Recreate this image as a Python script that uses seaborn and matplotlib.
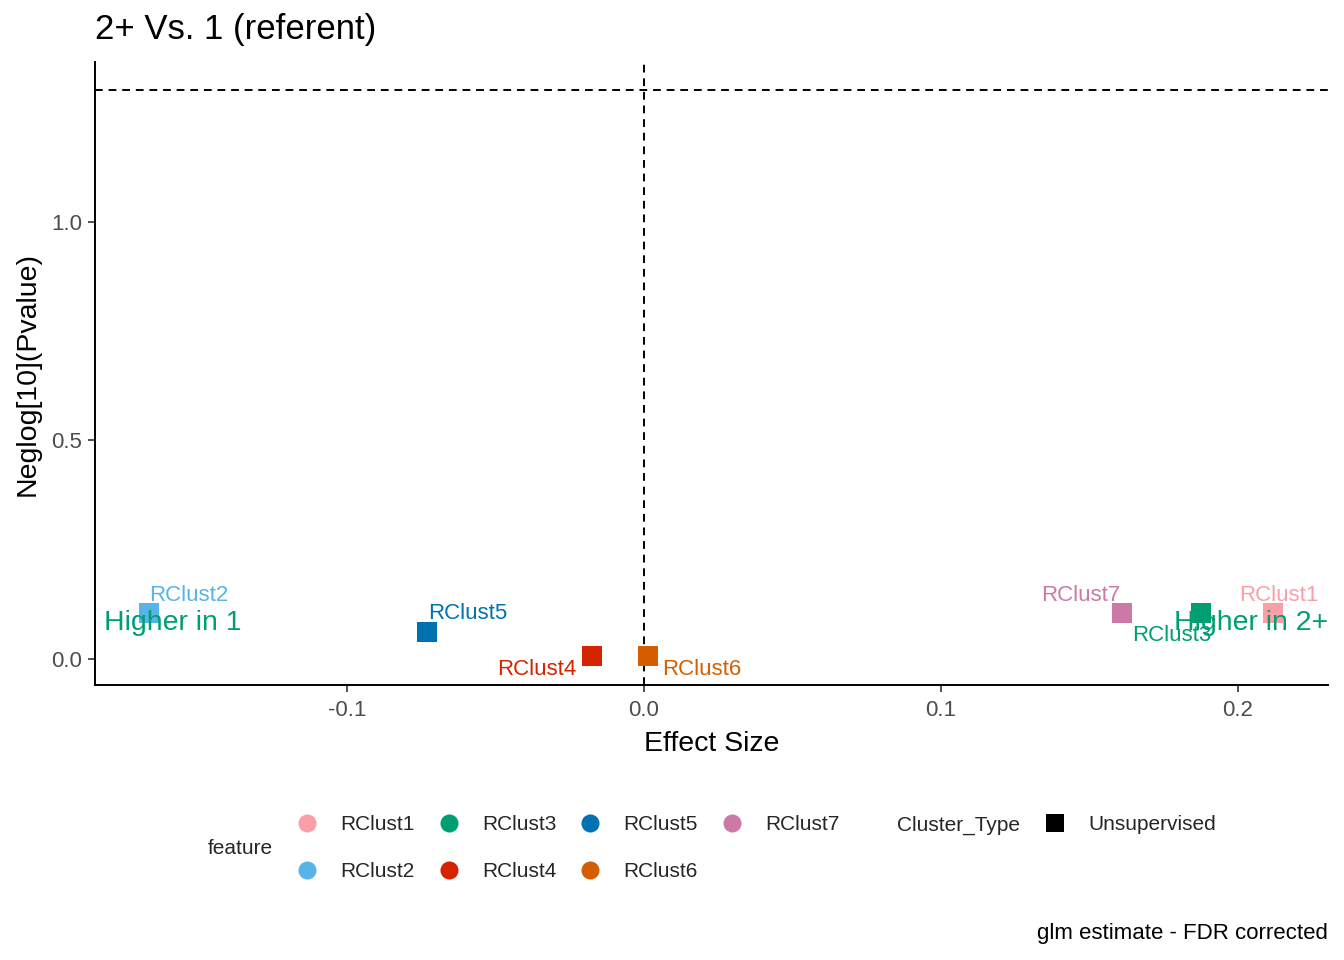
import matplotlib
matplotlib.use("Agg")
import matplotlib.pyplot as plt
import matplotlib.transforms as mtransforms
from matplotlib.lines import Line2D
import seaborn as sns
import pandas as pd

# ---- data ----
features = ["RClust1", "RClust2", "RClust3", "RClust4", "RClust5", "RClust6", "RClust7"]
effect_size = [0.2118, -0.1665, 0.1875, -0.0175, -0.0731, 0.0013, 0.1610]
neglog_p = [0.105, 0.105, 0.105, 0.007, 0.062, 0.007, 0.105]
cluster_type = ["Unsupervised"] * 7
palette_colors = ["#FA9FA8", "#56B4E9", "#009E73", "#D62300", "#0072B2", "#D55E00", "#CC79A7"]
x_ticks = [-0.1, 0.0, 0.1, 0.2]
y_ticks = [0.0, 0.5, 1.0]
sig_line = 1.30103

# label offsets (points) for repelled labels: (dx, dy, ha)
label_offsets = {
    "RClust1": (4, 13, "center"),
    "RClust2": (0, 13, "left"),
    "RClust3": (-21, -16, "center"),
    "RClust4": (-11, -9.5, "right"),
    "RClust5": (1, 13, "left"),
    "RClust6": (10, -9.5, "left"),
    "RClust7": (-1.5, 13, "right"),
}

df = pd.DataFrame({"feature": features, "effect": effect_size,
                   "neglog": neglog_p, "Cluster_Type": cluster_type})
pal = dict(zip(features, palette_colors))

sns.set_theme(style="ticks")
plt.rcParams["font.family"] = ["Liberation Sans", "DejaVu Sans"]

fig = plt.figure(figsize=(13.44, 9.6), dpi=100)
ax = fig.add_axes([95 / 1344, 1 - 685 / 960, 1233 / 1344, 623 / 960])

sns.scatterplot(data=df, x="effect", y="neglog", hue="feature", palette=pal,
                marker="s", s=210, linewidth=0, legend=False, ax=ax, zorder=3)

ax.axhline(sig_line, color="black", lw=1.4, ls=(0, (4, 3)), zorder=1)
ax.axvline(0, color="black", lw=1.4, ls=(0, (4, 3)), zorder=1)

for f, xv, yv in zip(features, effect_size, neglog_p):
    dx, dy, ha = label_offsets[f]
    ax.annotate(f, (xv, yv), xytext=(dx, dy), textcoords="offset points",
                ha=ha, va="center", fontsize=16, color=pal[f], zorder=4)

blend = mtransforms.blended_transform_factory(ax.transAxes, ax.transData)
ax.text(0.0073, 0.082, "Higher in 1", transform=blend,
        ha="left", va="center", fontsize=20.5, color="#009E73", zorder=5)
ax.text(1.0, 0.082, "Higher in 2+", transform=blend,
        ha="right", va="center", fontsize=20.5, color="#009E73", zorder=5)

ax.set_xlim(-0.1848, 0.2303)
ax.set_ylim(-0.0595, 1.366)
ax.set_xticks(x_ticks)
ax.set_xticklabels([f"{t:.1f}" for t in x_ticks])
ax.set_yticks(y_ticks)
ax.set_yticklabels([f"{t:.1f}" for t in y_ticks])
ax.tick_params(axis="both", length=5, width=1.2, color="#333333",
               labelcolor="#4D4D4D", labelsize=16, pad=4)
ax.tick_params(axis="x", pad=6)
for side in ["top", "right"]:
    ax.spines[side].set_visible(False)
for side in ["left", "bottom"]:
    ax.spines[side].set_linewidth(1.4)
    ax.spines[side].set_color("black")

ax.set_xlabel("Effect Size", fontsize=20.5, color="black")
ax.set_ylabel("Neglog[10](Pvalue)", fontsize=20.5, color="black")
ax.xaxis.set_label_coords(0.5, -(744 - 685) / 623)
ax.xaxis.label.set_va("center")
ax.yaxis.set_label_coords(-(95 - 28) / 1233, 0.5)
ax.yaxis.label.set_va("center")

# title & caption
fig.text(95 / 1344, 1 - 30 / 960, "2+ Vs. 1 (referent)", fontsize=25,
         ha="left", va="center", color="black")
fig.text(1328 / 1344, 1 - 934 / 960, "glm estimate - FDR corrected", fontsize=16,
         ha="right", va="center", color="black")

# feature legend
handles = [Line2D([], [], marker="o", ls="", markersize=13, color=pal[f],
                  markeredgewidth=0) for f in features]
leg1 = fig.legend(handles, features, ncol=4, loc="center left",
                  bbox_to_anchor=(297 / 1344, 1 - 848 / 960), frameon=False,
                  fontsize=15, handlelength=1.0, handletextpad=1.1,
                  columnspacing=1.12, labelspacing=1.33, borderpad=0,
                  borderaxespad=0)
fig.text(208 / 1344, 1 - 848 / 960, "feature", fontsize=15, ha="left", va="center")

# Cluster_Type legend
h2 = [Line2D([], [], marker="s", ls="", markersize=13, color="black", markeredgewidth=0)]
leg2 = fig.legend(h2, ["Unsupervised"], loc="center left",
                  bbox_to_anchor=(1045 / 1344, 1 - 825 / 960), frameon=False,
                  fontsize=15, handlelength=1.0, handletextpad=1.1,
                  borderpad=0, borderaxespad=0)
fig.text(897 / 1344, 1 - 825 / 960, "Cluster_Type", fontsize=15, ha="left", va="center")

fig.savefig("out.png", dpi=100)
